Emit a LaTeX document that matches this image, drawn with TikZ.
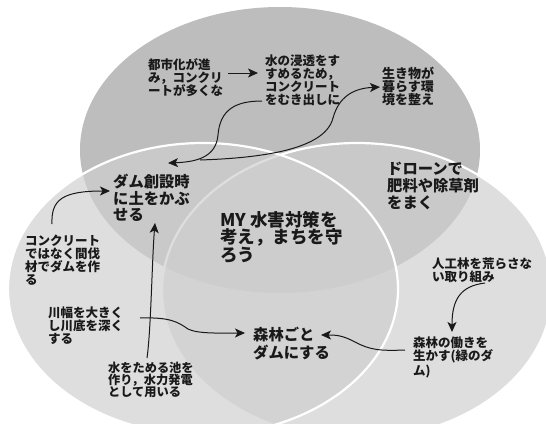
\documentclass[tikz,border=0pt]{standalone}
\usepackage{fontspec}
\newfontfamily\jp{Noto Sans CJK JP}
\usetikzlibrary{arrows.meta}
\definecolor{topc}{gray}{0.74}
\definecolor{botc}{gray}{0.81}
\definecolor{ink}{gray}{0.1}
\begin{document}
\begin{tikzpicture}[x=1pt,y=-1pt,
  txt/.style={anchor=north west, inner sep=0pt, align=left, text=ink},
  small/.style={txt, font=\jp\bfseries\fontsize{12.5}{13}\selectfont},
  smallL/.style={txt, font=\jp\bfseries\fontsize{12.2}{12}\selectfont},
  mid/.style={txt, font=\jp\bfseries\fontsize{13}{13}\selectfont},
  big/.style={txt, font=\jp\bfseries\fontsize{15.3}{16.5}\selectfont},
  bigF/.style={txt, font=\jp\bfseries\fontsize{15.3}{17}\selectfont},
  bigI/.style={txt, font=\jp\bfseries\fontsize{15.3}{18}\selectfont},
  huge/.style={txt, font=\jp\bfseries\fontsize{17.5}{17.5}\selectfont},
  arr/.style={-{Stealth[length=10pt,width=9pt,inset=2.5pt]}, line width=1pt, draw=ink},
  circ/.style={fill=botc, fill opacity=0.68, draw=white, line width=2.2pt}]
\useasboundingbox (0,0) rectangle (546,423);
\fill[white] (0,0) rectangle (546,423);
% circles
\fill[topc] (280,150) ellipse [x radius=200pt, y radius=143pt];
\path[circ] (357,291) ellipse [x radius=195pt, y radius=148pt];
\path[circ] (203,289) ellipse [x radius=195pt, y radius=146pt];
% texts
\node[small] (A) at (148,58) {都市化が進\\み，コンクリ\\ートが多くな};
\node[small] (B) at (265,55) {水の浸透をす\\すめるため，\\コンクリート\\をむき出しに};
\node[mid] (C) at (382,67) {生き物が\\暮らす環\\境を整え};
\node[big] (D) at (113,174) {ダム創設時\\に土をかぶ\\せる};
\node[huge] (E) at (220,211) {MY 水害対策を\\考え，まちを守\\ろう};
\node[bigF] (F) at (387,162) {ドローンで\\肥料や除草剤\\をまく};
\node[small] (G) at (25,235) {コンクリート\\ではなく間伐\\材でダムを作\\る};
\node[small] (H) at (48,307) {川幅を大きく\\し川底を深く\\する};
\node[bigI] (I) at (253,327) {森林ごと\\ダムにする};
\node[small] (J) at (432,258) {人工林を荒らさな\\い取り組み};
\node[small] (K) at (413,337) {森林の働きを\\生かす(緑のダ\\ム)};
\node[smallL] (L) at (108,362) {水をためる池を\\作り，水力発電\\として用いる};
% connectors
\draw[arr] ([xshift=5pt]A.east |- 0,73) -- ([xshift=-7pt]B.west |- 0,73);
\draw[arr] ([shift={(-3,46)}]B.north west) .. controls (235,101) and (220,110) .. (218,135)
  .. controls (216,158) and (195,162) .. ([shift={(55,-11)}]D.north west);
\draw[arr] ([shift={(87,-14)}]D.north west) .. controls (260,158) and (325,150) .. (333,118)
  .. controls (340,92) and (360,88) .. ([shift={(-2,20)}]C.north west);
\draw[arr] ([shift={(27,-11)}]G.north west) .. controls (51,200) and (62,191) .. ([shift={(-3,17)}]D.north west);
\draw[arr] ([shift={(39,-4)}]L.north west) .. controls (151,330) and (152,260) .. ([shift={(42,49)}]D.north west);
\draw[arr] ([shift={(92,11)}]H.north west) .. controls (170,317) and (178,322) .. (188,329)
  .. controls (198,334) and (220,333) .. ([shift={(-8,6)}]I.north west);
\draw[arr] ([shift={(-8,13)}]K.north west) .. controls (380,351) and (370,350) .. (355,342)
  .. controls (342,335) and (335,335) .. ([shift={(68,8)}]I.north west);
\draw[arr] ([shift={(53,25)}]J.north west) .. controls (460,286) and (452,300) .. ([shift={(39,-5)}]K.north west);
\end{tikzpicture}
\end{document}
